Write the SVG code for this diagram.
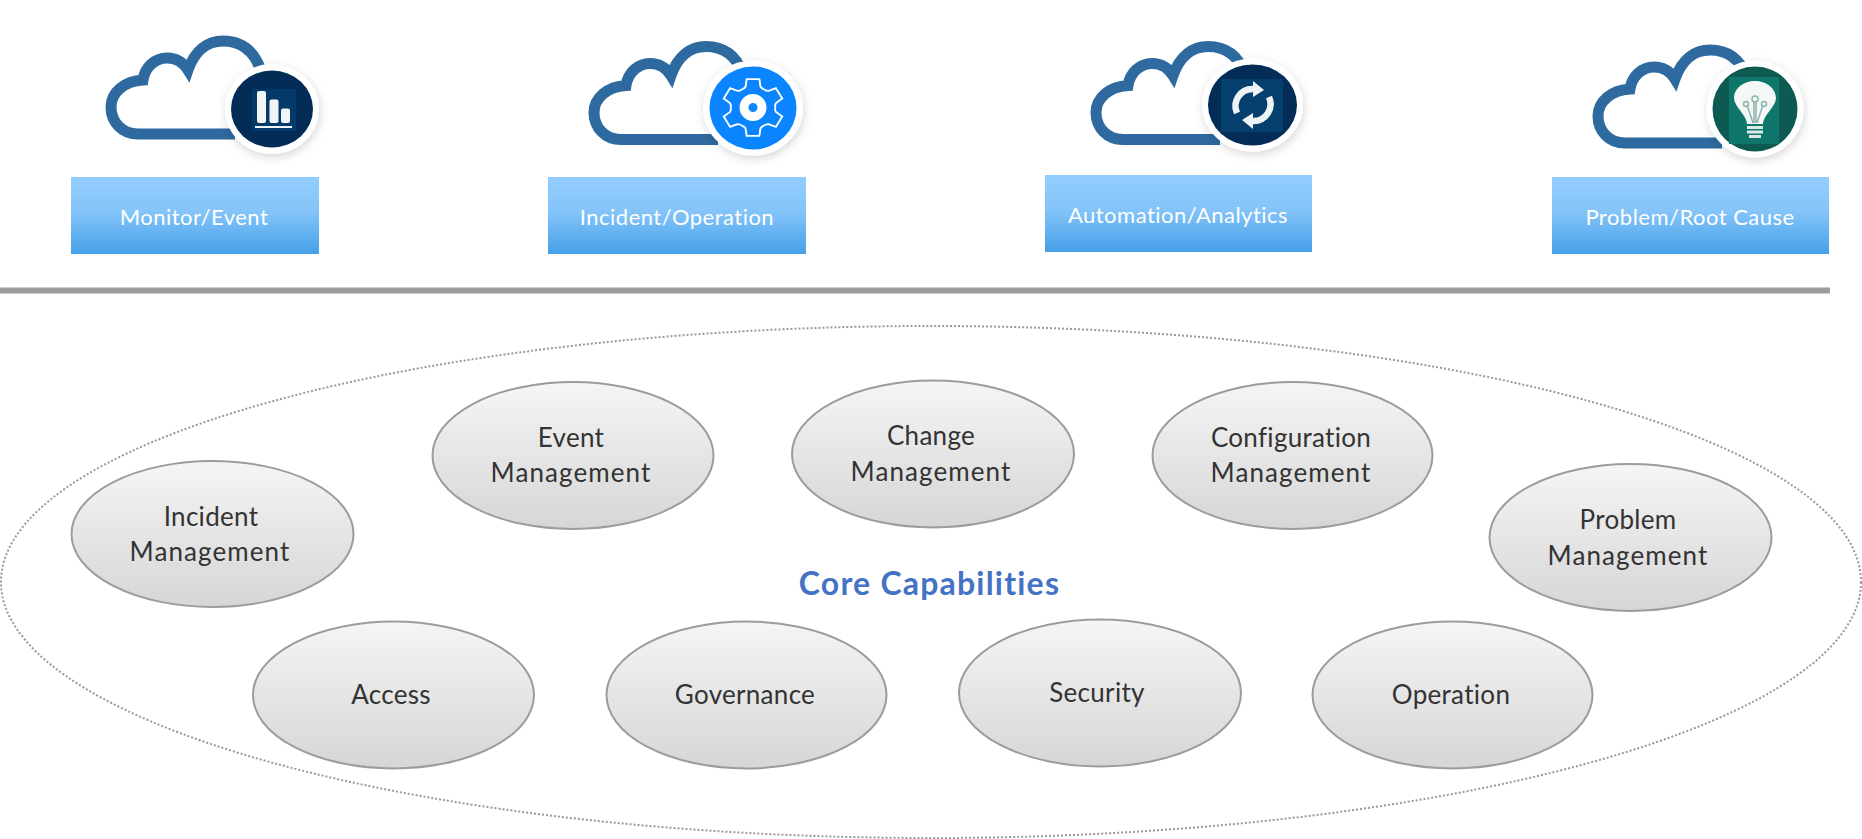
<svg xmlns="http://www.w3.org/2000/svg" xmlns:xlink="http://www.w3.org/1999/xlink" width="1862" height="839" viewBox="0 0 1862 839">
<style>
text{font-family:"Lato","Open Sans","Liberation Sans",sans-serif}
.cloud{fill:none;stroke:#2e6a9f;stroke-width:11;stroke-linejoin:miter;stroke-miterlimit:10}
.rl{fill:#fff;font-size:22px;text-anchor:middle;letter-spacing:.48px}
.el{fill:url(#eg);stroke:#9c9c9c;stroke-width:2}
.et{fill:#333;font-size:26px;text-anchor:middle;letter-spacing:.3px}
.m{letter-spacing:1.1px}
.halo{fill:#fff;filter:url(#sh)}
</style>
<defs>
<linearGradient id="bg" x1="0" y1="0" x2="0" y2="1"><stop offset="0" stop-color="#93cefe"/><stop offset=".45" stop-color="#84c4f9"/><stop offset="1" stop-color="#45a0e9"/></linearGradient>
<linearGradient id="eg" x1="0" y1="0" x2="0" y2="1"><stop offset="0" stop-color="#f5f5f5"/><stop offset="1" stop-color="#d6d6d6"/></linearGradient>
<filter id="sh" x="-30%" y="-30%" width="160%" height="160%"><feDropShadow dx="1" dy="3" stdDeviation="5" flood-color="#000" flood-opacity=".16"/></filter>
<path id="cl" class="cloud" d="M235 134H138C122 134 111 122 111 107C111 92 125 81 143 80C145 67 155 58 167 58C176 58 183 62 188 70C195 50 208 41 223 41C240 41 253 50 260 68"/>
<path id="tooth" fill="none" stroke="#fff" stroke-width="1.800" d="M-10.500 -18.200Q-8 -19 -7 -21L-6 -28.400H6L7 -21Q8 -19 10.500 -18.200"/>
<g id="arc"><path d="M-16 8A17 17 0 0 1 0 -16" fill="none" stroke="#eef3f6" stroke-width="6.500"/><polygon points="0,-24 11,-15 0,-8" fill="#eef3f6"/></g>
</defs>

<g id="node-monitor">
<use xlink:href="#cl"/>
<ellipse class="halo" cx="272" cy="109" rx="47" ry="45"/>
<ellipse cx="272" cy="109" rx="41" ry="38.500" fill="#032d57"/>
<rect x="252" y="89" width="44" height="42" fill="#043a6a"/>
<g fill="#f2f5f7"><rect x="257" y="91" width="9" height="32" rx="2"/><rect x="269.500" y="99.500" width="9" height="23.500" rx="2"/><rect x="281" y="108.500" width="9" height="14.500" rx="2"/><rect x="255" y="126" width="37" height="2"/></g>
<rect x="71" y="177" width="248" height="77" fill="url(#bg)"/>
<text class="rl" x="194" y="225">Monitor/Event</text>
</g>

<g id="node-incident">
<use xlink:href="#cl" transform="translate(483 5.500)"/>
<ellipse class="halo" cx="753" cy="108" rx="50" ry="47.500"/>
<ellipse cx="753" cy="108" rx="43.500" ry="41.500" fill="#0a84ff"/>
<g transform="translate(753 107.500) scale(1.060 1)"><use xlink:href="#tooth"/><use xlink:href="#tooth" transform="rotate(60)"/><use xlink:href="#tooth" transform="rotate(120)"/><use xlink:href="#tooth" transform="rotate(180)"/><use xlink:href="#tooth" transform="rotate(240)"/><use xlink:href="#tooth" transform="rotate(300)"/></g>
<circle cx="753" cy="107.500" r="9" fill="#0a84ff" stroke="#fff" stroke-width="9"/>
<rect x="548" y="177" width="258" height="77" fill="url(#bg)"/>
<text class="rl" x="677" y="225">Incident/Operation</text>
</g>

<g id="node-automation">
<use xlink:href="#cl" transform="translate(985 5.500)"/>
<ellipse class="halo" cx="1252.500" cy="105" rx="50.500" ry="46.500"/>
<ellipse cx="1252.500" cy="105" rx="44.500" ry="40.500" fill="#032d57"/>
<rect x="1221" y="79" width="62" height="53" fill="#043f6d"/>
<g transform="translate(1253 105)"><use xlink:href="#arc"/><use xlink:href="#arc" transform="rotate(180)"/></g>
<rect x="1045" y="175" width="267" height="77" fill="url(#bg)"/>
<text class="rl" x="1178" y="223">Automation/Analytics</text>
</g>

<g id="node-problem-root">
<use xlink:href="#cl" transform="translate(1487 9)"/>
<ellipse class="halo" cx="1755" cy="109" rx="48.500" ry="48.500"/>
<ellipse cx="1755" cy="109" rx="42.500" ry="42.500" fill="#0c5a52"/>
<rect x="1729" y="77" width="50" height="67" fill="#0f766b"/>
<g transform="translate(1755 109)">
<path d="M-8 15C-8 6 -21 -2 -21 -11C-21 -21 -11 -28 0 -28C11 -28 21 -21 21 -11C21 -2 8 6 8 15Z" fill="#f3f7f6"/>
<g fill="none" stroke="#8fb3ad" stroke-width="1.500"><path d="M-2 14L-8 -4M2 14L8 -4M-1 14L-1 -8M1 14L1 -8"/><circle cx="0" cy="-10" r="3"/><circle cx="-9" cy="-5" r="2.500"/><circle cx="9" cy="-5" r="2.500"/></g>
<g fill="#dbe8e5"><rect x="-8" y="17" width="16" height="3"/><rect x="-8" y="21.500" width="16" height="3"/><rect x="-6" y="26" width="12" height="3"/></g>
</g>
<rect x="1552" y="177" width="277" height="77" fill="url(#bg)"/>
<text class="rl" x="1690" y="225">Problem/Root Cause</text>
</g>

<g id="connectors">
<line x1="0" y1="290.500" x2="1830" y2="290.500" stroke="#9c9c9c" stroke-width="6"/>
</g>

<g id="core-capabilities">
<ellipse cx="931" cy="582" rx="930" ry="256" fill="none" stroke="#999" stroke-width="2" stroke-dasharray="2 2"/>
<text x="929.500" y="595" fill="#4472c4" font-size="32" font-weight="700" text-anchor="middle" letter-spacing="1.200">Core Capabilities</text>
</g>

<g id="node-incident-mgmt"><ellipse class="el" cx="212.500" cy="534" rx="141" ry="73"/><text class="et" x="211" y="526">Incident</text><text class="et m" x="210" y="561">Management</text></g>
<g id="node-event-mgmt"><ellipse class="el" cx="573" cy="455.500" rx="140.500" ry="73.500"/><text class="et" x="571" y="447">Event</text><text class="et m" x="571" y="482">Management</text></g>
<g id="node-change-mgmt"><ellipse class="el" cx="933" cy="454" rx="141" ry="73.500"/><text class="et" x="931" y="445">Change</text><text class="et m" x="931" y="481">Management</text></g>
<g id="node-config-mgmt"><ellipse class="el" cx="1292.500" cy="455.500" rx="140" ry="73.500"/><text class="et" x="1291" y="447">Configuration</text><text class="et m" x="1291" y="482">Management</text></g>
<g id="node-problem-mgmt"><ellipse class="el" cx="1630.500" cy="537.500" rx="141" ry="73.500"/><text class="et" x="1628" y="529">Problem</text><text class="et m" x="1628" y="565">Management</text></g>
<g id="node-access"><ellipse class="el" cx="393.500" cy="695" rx="140.500" ry="73.500"/><text class="et" x="391" y="704">Access</text></g>
<g id="node-governance"><ellipse class="el" cx="746.500" cy="695" rx="140" ry="73.500"/><text class="et" x="745" y="704">Governance</text></g>
<g id="node-security"><ellipse class="el" cx="1100" cy="693" rx="141" ry="73.500"/><text class="et" x="1097" y="702">Security</text></g>
<g id="node-operation"><ellipse class="el" cx="1452.500" cy="695" rx="140" ry="73.500"/><text class="et" x="1451" y="704">Operation</text></g>
</svg>
